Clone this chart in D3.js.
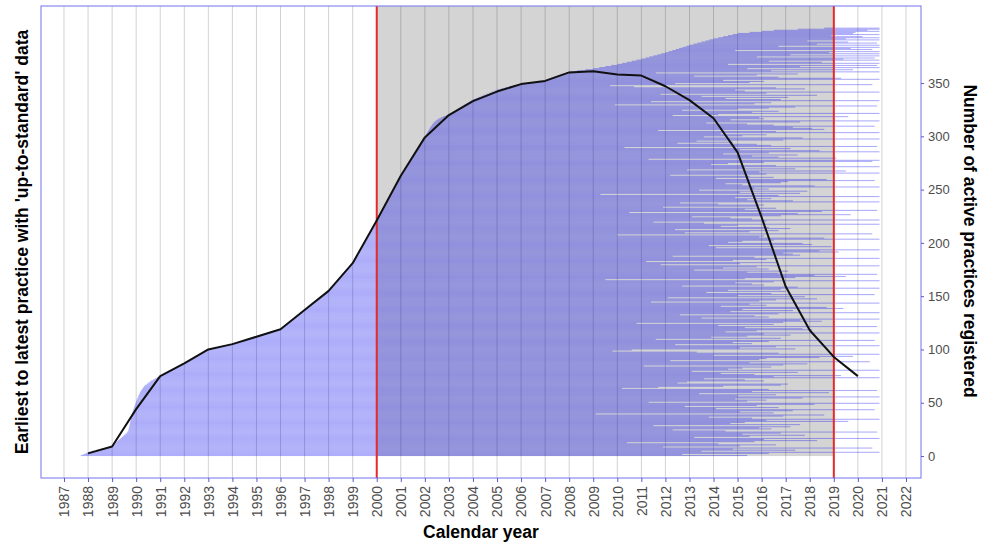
<!DOCTYPE html>
<html>
<head>
<meta charset="utf-8">
<script src="https://cdn.jsdelivr.net/npm/d3@7"></script>
<style>
  body { margin: 0; background: #fff; }
  svg { font-family: "Liberation Sans", Arial, sans-serif; }
</style>
</head>
<body>
<div id="chart"></div>
<script>
// ---- data ----
const calendarYears = [1987, 1988, 1989, 1990, 1991, 1992, 1993, 1994, 1995, 1996, 1997, 1998,
  1999, 2000, 2001, 2002, 2003, 2004, 2005, 2006, 2007, 2008, 2009, 2010, 2011, 2012, 2013,
  2014, 2015, 2016, 2017, 2018, 2019, 2020, 2021, 2022];
const countTicks = [0, 50, 100, 150, 200, 250, 300, 350];
const studyWindow = [2000, 2019];

// number of active practices (black line), one value per calendar year
const lineYears = [1988, 1989, 1990, 1991, 1992, 1993, 1994, 1995, 1996, 1997, 1998, 1999,
  2000, 2001, 2002, 2003, 2004, 2005, 2006, 2007, 2008, 2009, 2010, 2011, 2012, 2013, 2014,
  2015, 2016, 2017, 2018, 2019, 2020];
const activePractices = [2.5, 9, 44, 75, 87, 100, 105, 112, 119, 137, 155, 181,
  221, 263, 299, 320, 333, 342, 349, 352, 360, 361, 358, 357, 347, 334, 317,
  285, 224, 159, 118, 93, 75];

// one row per practice: first and last year of up-to-standard data
const practiceStart = [
  1987.70, 1987.80, 1987.90,
  1988.00, 1988.15, 1988.35, 1988.55, 1988.75, 1988.90,
  1989.00, 1989.05, 1989.10, 1989.15, 1989.20, 1989.25, 1989.30, 1989.35, 1989.40,
  1989.45, 1989.50, 1989.55, 1989.60, 1989.63, 1989.67,
  1989.68, 1989.69, 1989.70, 1989.71, 1989.72, 1989.73, 1989.74, 1989.75, 1989.76, 1989.77, 1989.78, 1989.79, 1989.80, 1989.80,
  1989.81, 1989.82, 1989.84, 1989.85, 1989.87, 1989.88, 1989.90, 1989.91, 1989.93, 1989.94, 1989.96, 1989.97, 1989.99,
  1990.00, 1990.02, 1990.04, 1990.06, 1990.08, 1990.10, 1990.12, 1990.14, 1990.16, 1990.18, 1990.21, 1990.24, 1990.27, 1990.30,
  1990.33, 1990.38, 1990.44, 1990.50, 1990.56,
  1990.62, 1990.70, 1990.78, 1990.86, 1990.94,
  1991.00, 1991.08, 1991.16, 1991.25, 1991.33, 1991.41, 1991.50, 1991.58, 1991.66, 1991.75, 1991.83, 1991.91,
  1992.00, 1992.08, 1992.15, 1992.23, 1992.31, 1992.38, 1992.46, 1992.54, 1992.62, 1992.69, 1992.77, 1992.85, 1992.92,
  1993.00, 1993.20, 1993.40, 1993.60, 1993.80,
  1994.00, 1994.14, 1994.29, 1994.43, 1994.57, 1994.71, 1994.86,
  1995.00, 1995.14, 1995.29, 1995.43, 1995.57, 1995.71, 1995.86,
  1996.00, 1996.06, 1996.11, 1996.17, 1996.22, 1996.28, 1996.33, 1996.39, 1996.44, 1996.50, 1996.56, 1996.61, 1996.67, 1996.72, 1996.78, 1996.83, 1996.89, 1996.94,
  1997.00, 1997.06, 1997.11, 1997.17, 1997.22, 1997.28, 1997.33, 1997.39, 1997.44, 1997.50, 1997.56, 1997.61, 1997.67, 1997.72, 1997.78, 1997.83, 1997.89, 1997.94,
  1998.00, 1998.04, 1998.08, 1998.12, 1998.15, 1998.19, 1998.23, 1998.27, 1998.31, 1998.35, 1998.38, 1998.42, 1998.46, 1998.50, 1998.54, 1998.58, 1998.62, 1998.65, 1998.69, 1998.73, 1998.77, 1998.81, 1998.85, 1998.88, 1998.92, 1998.96,
  1999.00, 1999.03, 1999.05, 1999.08, 1999.10, 1999.13, 1999.15, 1999.18, 1999.20, 1999.23, 1999.25, 1999.28, 1999.30, 1999.33, 1999.35, 1999.38, 1999.40, 1999.43, 1999.45, 1999.48,
  1999.50, 1999.53, 1999.55, 1999.58, 1999.60, 1999.63, 1999.65, 1999.68, 1999.70, 1999.73, 1999.75, 1999.78, 1999.80, 1999.83, 1999.85, 1999.88, 1999.90, 1999.93, 1999.95, 1999.98,
  2000.00, 2000.02, 2000.05, 2000.07, 2000.10, 2000.12, 2000.14, 2000.17, 2000.19, 2000.21, 2000.24, 2000.26, 2000.29, 2000.31, 2000.33, 2000.36, 2000.38, 2000.40, 2000.43, 2000.45, 2000.48,
  2000.50, 2000.52, 2000.55, 2000.57, 2000.60, 2000.62, 2000.64, 2000.67, 2000.69, 2000.71, 2000.74, 2000.76, 2000.79, 2000.81, 2000.83, 2000.86, 2000.88, 2000.90, 2000.93, 2000.95, 2000.98,
  2001.00, 2001.03, 2001.06, 2001.08, 2001.11, 2001.14, 2001.17, 2001.19, 2001.22, 2001.25, 2001.28, 2001.31, 2001.33, 2001.36, 2001.39, 2001.42, 2001.44, 2001.47,
  2001.50, 2001.53, 2001.56, 2001.58, 2001.61, 2001.64, 2001.67, 2001.69, 2001.72, 2001.75, 2001.78, 2001.81, 2001.83, 2001.86, 2001.89, 2001.92, 2001.94, 2001.97,
  2002.00, 2002.03, 2002.05, 2002.08, 2002.10, 2002.13, 2002.15, 2002.18, 2002.20, 2002.23, 2002.26, 2002.29, 2002.32, 2002.36, 2002.40, 2002.45, 2002.51, 2002.58, 2002.66, 2002.76, 2002.88,
  2003.00, 2003.07, 2003.14, 2003.21, 2003.29, 2003.36, 2003.43, 2003.50, 2003.57, 2003.64, 2003.71, 2003.79, 2003.86, 2003.93,
  2004.00, 2004.11, 2004.22, 2004.33, 2004.44, 2004.56, 2004.67, 2004.78, 2004.89,
  2005.00, 2005.17, 2005.33, 2005.50, 2005.67, 2005.83,
  2006.00, 2006.33, 2006.67,
  2007.00, 2007.12, 2007.25, 2007.37, 2007.50, 2007.62, 2007.75, 2007.87,
  2008.00, 2008.33, 2008.67,
  2009.00, 2009.25, 2009.50, 2009.75,
  2010.00, 2010.20, 2010.40, 2010.60, 2010.80,
  2011.00, 2011.17, 2011.33, 2011.50, 2011.67, 2011.83,
  2012.00, 2012.14, 2012.29, 2012.43, 2012.57, 2012.71, 2012.86,
  2013.00, 2013.17, 2013.33, 2013.50, 2013.67, 2013.83,
  2014.00, 2014.20, 2014.40, 2014.60, 2014.80,
  2015.00, 2015.50,
  2016.00, 2016.50,
  2017.50,
  2018.60
];

const practiceEnd = [
  2015.4, 2012.7, 2016.3, 2020.9, 2013.5, 2017.4, 2014.8, 2020.6, 2011.9, 2015.1,
  2016.6, 2014.2, 2010.4, 2015.7, 2018.3, 2016.1, 2020.9, 2013.2, 2015.5, 2017.8,
  2015.2, 2016.8, 2020.8, 2014.5, 2012.3, 2016.4, 2015.9, 2017.2, 2011.5, 2017.6,
  2014.7, 2015.3, 2019.6, 2016.2, 2020.9, 2015.6, 2013.8, 2016.9, 2018.6, 2009.1,
  2016.5, 2015.1, 2017.3, 2020.7, 2014.1, 2016.7, 2012.8, 2015.8, 2018.2, 2020.9,
  2011.3, 2015.4, 2016.2, 2014.9, 2017.7, 2020.9, 2015.0, 2016.6, 2013.4, 2018.8,
  2015.6, 2020.8, 2016.3, 2010.2, 2011.7, 2014.4, 2016.8, 2017.1, 2012.5, 2012.9,
  2016.1, 2015.3, 2013.6, 2020.9, 2016.5, 2019.3, 2015.7, 2014.3, 2017.5, 2013.1,
  2020.9, 2014.6, 2015.2, 2016.4, 2011.1, 2016.9, 2017.9, 2015.5, 2020.5, 2012.2,
  2015.9, 2016.2, 2018.4, 2019.8, 2014.0, 2020.9, 2016.7, 2013.3, 2009.8, 2010.6,
  2017.4, 2015.1, 2016.6, 2020.9, 2012.4, 2015.6, 2014.8, 2016.3, 2020.7, 2011.6,
  2016.8, 2013.9, 2015.4, 2017.2, 2016.1, 2020.9, 2014.5, 2015.8, 2018.1, 2017.7,
  2015.3, 2020.8, 2014.2, 2016.5, 2010.8, 2016.9, 2018.5, 2017.6, 2020.9, 2013.5,
  2016.3, 2015.7, 2012.6, 2016.7, 2020.9, 2014.7, 2017.3, 2015.2, 2019.4, 2018.7,
  2014.3, 2016.2, 2015.5, 2020.9, 2011.4, 2015.9, 2016.6, 2018.3, 2012.1, 2017.8,
  2015.0, 2020.7, 2016.4, 2013.7, 2017.0, 2014.6, 2016.8, 2020.9, 2017.5, 2012.7,
  2016.1, 2015.6, 2014.9, 2016.5, 2020.9, 2009.5, 2015.3, 2017.4, 2019.5, 2018.2,
  2020.8, 2016.7, 2015.4, 2017.1, 2013.2, 2016.3, 2014.4, 2015.8, 2020.9, 2011.8,
  2015.1, 2016.6, 2011.2, 2014.8, 2016.2, 2020.9, 2015.7, 2012.3, 2017.6, 2017.3,
  2016.9, 2019.2, 2018.4, 2020.9, 2016.4, 2014.1, 2018.9, 2013.8, 2018.1, 2017.7,
  2014.6, 2015.2, 2016.5, 2020.9, 2018.6, 2015.9, 2016.1, 2010.0, 2020.6, 2012.8,
  2015.5, 2016.7, 2012.4, 2017.2, 2016.3, 2014.3, 2015.0, 2020.9, 2013.6, 2011.5,
  2016.2, 2020.9, 2015.6, 2014.7, 2013.1, 2016.8, 2019.7, 2017.5, 2010.5, 2018.5,
  2020.8, 2015.3, 2016.6, 2011.9, 2015.8, 2016.1, 2014.2, 2012.6, 2020.9, 2017.3,
  2015.4, 2016.4, 2014.9, 2020.9, 2016.7, 2009.3, 2017.6, 2015.1, 2017.9, 2013.4,
  2016.3, 2015.7, 2020.9, 2018.2, 2015.2, 2014.5, 2016.8, 2017.1, 2020.7, 2018.7,
  2014.1, 2016.5, 2015.5, 2012.2, 2016.2, 2020.9, 2015.9, 2019.5, 2012.9, 2017.4,
  2015.3, 2020.9, 2016.6, 2013.9, 2014.6, 2016.1, 2020.6, 2020.9, 2011.3, 2019.1,
  2016.7, 2015.6, 2017.5, 2014.4, 2016.3, 2020.9, 2018.4, 2015.1, 2017.2, 2010.3,
  2020.8, 2016.4, 2015.8, 2012.5, 2014.8, 2013.3, 2016.9, 2020.9, 2017.7, 2013.6,
  2015.2, 2016.2, 2014.3, 2020.9, 2016.6, 2011.7, 2018.6, 2018.1, 2017.3, 2020.7,
  2016.5, 2015.4, 2013.7, 2017.6, 2020.9, 2014.7, 2016.1, 2015.9, 2019.6, 2012.3,
  2014.2, 2020.9, 2015.6, 2016.7, 2012.7, 2015.0, 2016.3, 2017.4, 2020.8, 2009.9,
  2015.7, 2016.4, 2011.4, 2020.9, 2016.8, 2014.5, 2017.1, 2013.5, 2018.3, 2011.8,
  2016.2, 2020.9, 2015.3, 2014.9, 2017.8, 2016.6, 2010.7, 2009.7, 2020.6, 2012.4,
  2015.5, 2016.1, 2014.4, 2020.9, 2019.3, 2016.7, 2013.2, 2015.8, 2017.5, 2011.6,
  2020.9, 2016.4, 2019.8,
  2015.4, 2020.9, 2017.6, 2020.8, 2014.6, 2020.9, 2018.5, 2016.3, 2020.9, 2019.4,
  2020.7, 2015.8, 2020.9, 2017.2, 2020.9, 2018.8, 2020.9, 2014.9, 2020.6, 2019.7,
  2020.9, 2016.7, 2020.9, 2018.3, 2020.8, 2019.6, 2017.9, 2020.9, 2019.5, 2020.9,
  2020.2, 2018.9, 2020.9, 2019.8, 2019.9, 2020.9, 2020.4, 2020.9, 2020.9
];

// ---- chart ----
const width = 990, height = 546;
const panel = { left: 41, right: 921, top: 6, bottom: 478 };

const practices = d3.zip(practiceStart, practiceEnd).map((d, i) => ({ row: i, start: d[0], end: d[1] }));

const svg = d3.select("#chart")
  .append("svg")
  .attr("width", width)
  .attr("height", height);

const xScale = d3.scaleLinear()
  .domain([1986.044, 2022.624])
  .range([panel.left, panel.right]);

const yScale = d3.scaleLinear()
  .domain([-20.6, 422.3])
  .range([panel.bottom, panel.top]);

// grey study window
svg.append("rect")
  .attr("x", xScale(studyWindow[0]))
  .attr("width", xScale(studyWindow[1]) - xScale(studyWindow[0]))
  .attr("y", panel.top)
  .attr("height", yScale(0) - panel.top)
  .attr("fill", "#d4d4d4");

// vertical grid
svg.append("g")
  .selectAll("line")
  .data(calendarYears)
  .join("line")
  .attr("x1", d => xScale(d))
  .attr("x2", d => xScale(d))
  .attr("y1", panel.top)
  .attr("y2", panel.bottom)
  .attr("stroke", "#000")
  .attr("stroke-opacity", 0.18)
  .attr("stroke-width", 1);

// one bar per practice
const rowH = yScale(0) - yScale(1);
svg.append("g")
  .attr("fill", "#1414f0")
  .attr("fill-opacity", 0.35)
  .selectAll("rect")
  .data(practices)
  .join("rect")
  .attr("x", d => xScale(d.start))
  .attr("width", d => xScale(d.end) - xScale(d.start))
  .attr("y", d => yScale(d.row + 1))
  .attr("height", rowH);

// red study window limits
svg.append("g")
  .selectAll("line")
  .data(studyWindow)
  .join("line")
  .attr("x1", d => xScale(d))
  .attr("x2", d => xScale(d))
  .attr("y1", panel.top)
  .attr("y2", panel.bottom)
  .attr("stroke", "#e42a2a")
  .attr("stroke-width", 2);

// active practices line
const line = d3.line()
  .x((d, i) => xScale(lineYears[i]))
  .y(d => yScale(d));

svg.append("path")
  .datum(activePractices)
  .attr("fill", "none")
  .attr("stroke", "#111")
  .attr("stroke-width", 2)
  .attr("stroke-linejoin", "round")
  .attr("d", line);

// panel border
svg.append("rect")
  .attr("x", panel.left)
  .attr("y", panel.top)
  .attr("width", panel.right - panel.left)
  .attr("height", panel.bottom - panel.top)
  .attr("fill", "none")
  .attr("stroke", "#7272f0")
  .attr("stroke-width", 1);

// bottom axis
const xAxis = d3.axisBottom(xScale)
  .tickValues(calendarYears)
  .tickFormat(d3.format("d"))
  .tickSize(4)
  .tickPadding(3);

const gx = svg.append("g")
  .attr("transform", `translate(0,${panel.bottom})`)
  .call(xAxis);
gx.select(".domain").remove();
gx.selectAll(".tick line").attr("stroke", "#5a5ac8");
gx.selectAll(".tick text")
  .attr("fill", "#4d4d4d")
  .attr("font-size", 14)
  .attr("text-anchor", "end")
  .attr("transform", "rotate(-90)")
  .attr("x", -8)
  .attr("y", 0)
  .attr("dy", "0.35em");

// right axis
const yAxis = d3.axisRight(yScale)
  .tickValues(countTicks)
  .tickSize(3)
  .tickPadding(4);

const gy = svg.append("g")
  .attr("transform", `translate(${panel.right},0)`)
  .call(yAxis);
gy.select(".domain").remove();
gy.selectAll(".tick line").attr("stroke", "#5a5ac8");
gy.selectAll(".tick text")
  .attr("fill", "#4d4d4d")
  .attr("font-size", 13);

// titles
svg.append("text")
  .attr("transform", `translate(27.5,${(panel.top + panel.bottom) / 2}) rotate(-90)`)
  .attr("text-anchor", "middle")
  .attr("font-size", 17.5)
  .attr("font-weight", "bold")
  .attr("fill", "#000")
  .text("Earliest to latest practice with 'up-to-standard' data");

svg.append("text")
  .attr("transform", `translate(963.5,241) rotate(90)`)
  .attr("text-anchor", "middle")
  .attr("font-size", 17.5)
  .attr("font-weight", "bold")
  .attr("fill", "#000")
  .text("Number of active practices registered");

svg.append("text")
  .attr("x", (panel.left + panel.right) / 2)
  .attr("y", 538)
  .attr("text-anchor", "middle")
  .attr("font-size", 17.5)
  .attr("font-weight", "bold")
  .attr("fill", "#000")
  .text("Calendar year");
</script>
</body>
</html>
